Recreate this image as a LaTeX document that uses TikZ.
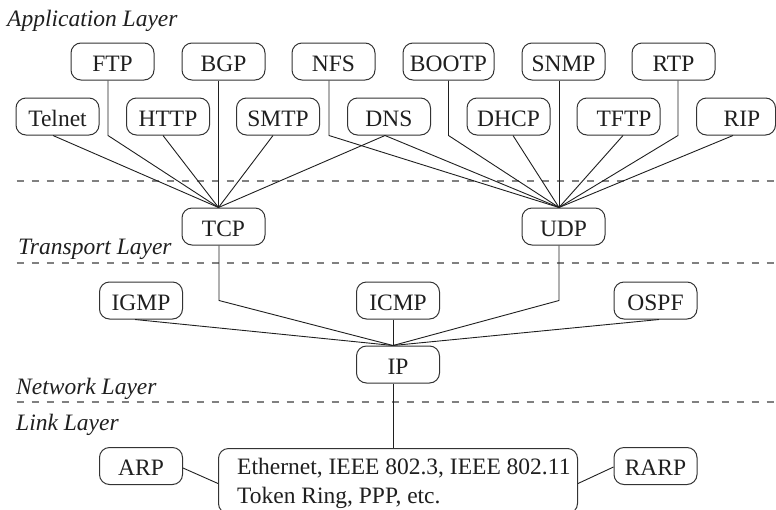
\documentclass[tikz,border=0pt]{standalone}
\usepackage{fontspec}
\setmainfont{Liberation Serif}
\begin{document}
\begin{tikzpicture}[x=1pt,y=-1pt,
  every node/.style={font=\fontsize{23.5}{28}\selectfont, text=black!88},
  proto/.style={draw=black!80, line width=1pt, rounded corners=10pt,
    minimum width=83pt, minimum height=37pt, inner sep=0pt,
    text height=19pt, text depth=0pt},
  link/.style={draw=black!88, line width=0.9pt},
  layerline/.style={draw=black!50, line width=2pt, dash pattern=on 7pt off 8pt},
  layername/.style={anchor=base west, inner sep=0pt,
    font=\fontsize{23.5}{28}\selectfont\itshape}]
\useasboundingbox (0,0) rectangle (776,509);

% layer separators
\draw[layerline] (16.5,181) -- (780,181);
\draw[layerline] (16.5,263) -- (780,263);
\draw[layerline] (16.5,402) -- (780,402);

% layer names
\node[layername] (lapp) at (7,26.5) {Application Layer};
\node[layername] (ltra) at (18,254.5) {Transport Layer};
\node[layername] (lnet) at (16,394) {Network Layer};
\node[layername] (llnk) at (16,430) {Link Layer};

% application protocols, upper row
\node[proto] (ftp) at (112.5,61.5) {FTP};
\node[proto] (bgp) at (223.5,61.5) {BGP};
\node[proto] (nfs) at (333.5,61.5) {NFS};
\node[proto, minimum width=91pt] (bootp) at (448.5,61.5) {BOOTP};
\node[proto] (snmp) at (563.5,61.5) {SNMP};
\node[proto] (rtp) at (673.5,61.5) {RTP};

% application protocols, lower row
\node[proto] (telnet) at (57.5,116.5) {Telnet};
\node[proto] (http) at (168,116.5) {HTTP};
\node[proto] (smtp) at (278,116.5) {SMTP};
\node[proto] (dns) at (389,116.5) {DNS};
\node[proto] (dhcp) at (508.5,116.5) {DHCP};
\node[proto] (tftp) at (618.5,116.5) {\hspace*{11pt}TFTP};
\node[proto, minimum width=79pt] (rip) at (736,116.5) {\hspace*{12pt}RIP};

% transport
\node[proto] (tcp) at (223.5,226.5) {TCP};
\node[proto] (udp) at (563.5,226.5) {UDP};

% network
\node[proto] (igmp) at (141,300.5) {IGMP};
\node[proto] (icmp) at (398,300.5) {ICMP};
\node[proto] (ospf) at (655.5,300.5) {OSPF};
\node[proto] (ip) at (398,364.5) {IP};

% link
\node[proto] (arp) at (141,466) {ARP};
\node[proto] (rarp) at (655.5,466) {RARP};
\node[proto, minimum width=359pt, minimum height=65pt, anchor=north west] (eth) at (218,448) {};
\node[anchor=base west, inner sep=0pt] (eth1) at (237,474) {Ethernet, IEEE 802.3, IEEE 802.11};
\node[anchor=base west, inner sep=0pt] (eth2) at (237,503) {Token Ring, PPP, etc.};

% attachment points
\coordinate (p-telnet) at ([xshift=-4.5pt]telnet.south);
\coordinate (p-ftp) at ([xshift=-4.5pt]ftp.south);
\coordinate (p-http) at ([xshift=-5pt]http.south);
\coordinate (p-bgp) at ([xshift=-5pt]bgp.south);
\coordinate (p-smtp) at ([xshift=-5pt]smtp.south);
\coordinate (p-nfs) at ([xshift=-4.5pt]nfs.south);
\coordinate (p-dns) at ([xshift=-4pt]dns.south);
\coordinate (p-bootp) at ([xshift=0pt]bootp.south);
\coordinate (p-dhcp) at ([xshift=4.5pt]dhcp.south);
\coordinate (p-snmp) at ([xshift=-4.5pt]snmp.south);
\coordinate (p-tftp) at ([xshift=4.5pt]tftp.south);
\coordinate (p-rtp) at ([xshift=4.5pt]rtp.south);
\coordinate (p-rip) at ([xshift=-3pt]rip.south);
\coordinate (t-tcp) at ([xshift=-5pt]tcp.north);
\coordinate (t-udp) at ([xshift=-4.5pt]udp.north);
\coordinate (b-tcp) at ([xshift=-4.5pt]tcp.south);
\coordinate (b-udp) at ([xshift=-4.5pt]udp.south);
\coordinate (p-igmp) at ([xshift=-6pt]igmp.south);
\coordinate (p-icmp) at ([xshift=-5pt]icmp.south);
\coordinate (p-ospf) at ([xshift=3.5pt]ospf.south);
\coordinate (t-ip) at ([xshift=-5pt]ip.north);
\coordinate (b-ip) at ([xshift=-5pt]ip.south);

% application -> TCP
\draw[link] (p-telnet) -- (t-tcp);
\draw[link] (p-ftp) -- (p-ftp |- telnet.south) -- (t-tcp);
\draw[link] (p-http) -- (t-tcp);
\draw[link] (p-bgp) -- (t-tcp);
\draw[link] (p-smtp) -- (t-tcp);
\draw[link] (p-dns) -- (t-tcp);

% application -> UDP
\draw[link] (p-nfs) -- (p-nfs |- telnet.south) -- (t-udp);
\draw[link] (p-dns) -- (t-udp);
\draw[link] (p-bootp) -- (p-bootp |- telnet.south) -- (t-udp);
\draw[link] (p-dhcp) -- (t-udp);
\draw[link] (p-snmp) -- (t-udp);
\draw[link] (p-tftp) -- (t-udp);
\draw[link] (p-rtp) -- (p-rtp |- telnet.south) -- (t-udp);
\draw[link] (p-rip) -- (t-udp);

% transport and routing -> IP
\draw[link] (b-tcp) -- (b-tcp |- igmp.center) -- (t-ip);
\draw[link] (b-udp) -- (b-udp |- igmp.center) -- (t-ip);
\draw[link] (p-igmp) -- (t-ip);
\draw[link] (p-icmp) -- (t-ip);
\draw[link] (p-ospf) -- (t-ip);

% IP -> link
\draw[link] (b-ip) -- (b-ip |- eth.north);
\draw[link] ([yshift=-2pt]arp.east) -- ([yshift=-2.5pt]eth.west);
\draw[link] ([yshift=-1pt]rarp.west) -- ([yshift=-2.5pt]eth.east);
\end{tikzpicture}
\end{document}
